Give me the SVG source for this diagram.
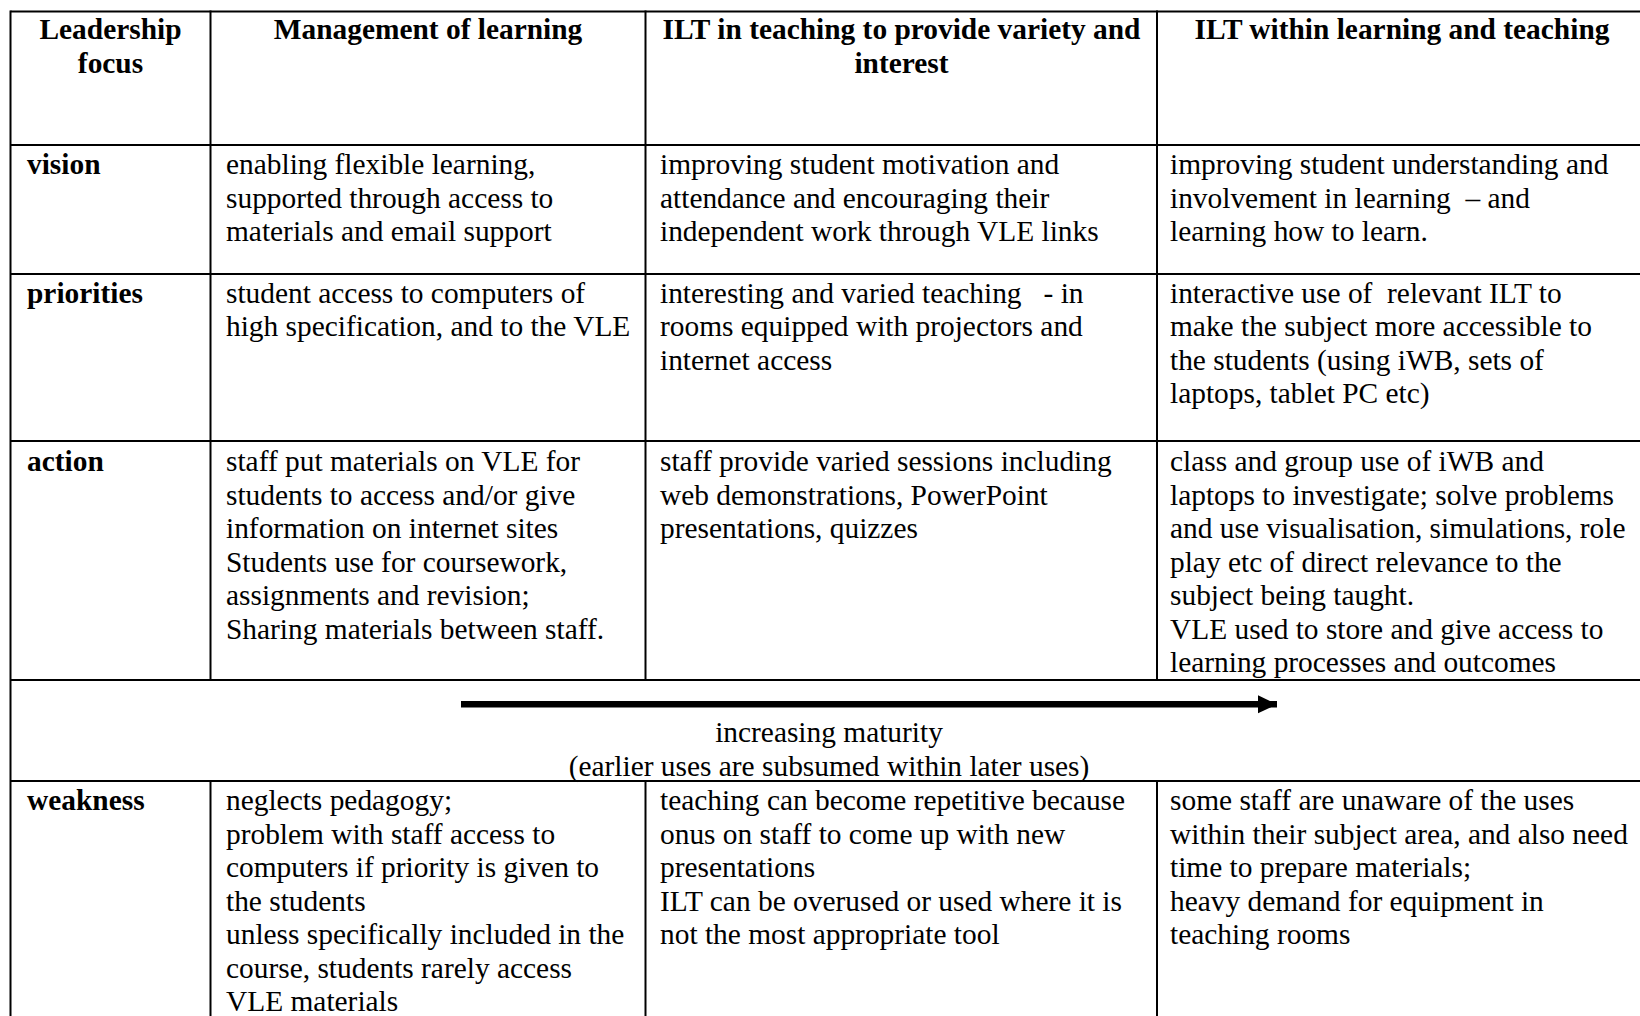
<svg xmlns="http://www.w3.org/2000/svg" width="1640" height="1016" viewBox="0 0 1640 1016">
<style>
.t{font-family:"Liberation Serif","Times New Roman",serif;font-size:29.4px;fill:#000}
.b{font-weight:bold}
.c{text-anchor:middle}
.grid{stroke:#000;stroke-width:2;fill:none}
</style>
<defs>
<marker id="ah" markerUnits="userSpaceOnUse" markerWidth="22" markerHeight="20" refX="19" refY="9.5" orient="auto">
<path d="M0,0.5 L19,9.5 L0,18.5 Z" fill="#000"/>
</marker>
</defs>
<rect width="1640" height="1016" fill="#fff"/>
<g id="grid" class="grid">
<line x1="10.5" y1="11.5" x2="1648" y2="11.5"/>
<line x1="10.5" y1="145" x2="1648" y2="145"/>
<line x1="10.5" y1="274" x2="1648" y2="274"/>
<line x1="10.5" y1="441" x2="1648" y2="441"/>
<line x1="10.5" y1="680" x2="1648" y2="680"/>
<line x1="10.5" y1="781" x2="1648" y2="781"/>
<line x1="10.5" y1="10.5" x2="10.5" y2="1020"/>
<line x1="210.5" y1="10.5" x2="210.5" y2="680"/>
<line x1="645.5" y1="10.5" x2="645.5" y2="680"/>
<line x1="1157" y1="10.5" x2="1157" y2="680"/>
<line x1="210.5" y1="781" x2="210.5" y2="1020"/>
<line x1="645.5" y1="781" x2="645.5" y2="1020"/>
<line x1="1157" y1="781" x2="1157" y2="1020"/>
</g>
<g id="h1"><text class="t b c" x="110.5" y="39"><tspan x="110.5">Leadership</tspan><tspan x="110.5" dy="33.5">focus</tspan></text></g>
<g id="h2"><text class="t b c" x="428" y="39">Management of learning</text></g>
<g id="h3"><text class="t b c" x="901.5" y="39"><tspan x="901.5">ILT in teaching to provide variety and</tspan><tspan x="901.5" dy="33.5">interest</tspan></text></g>
<g id="h4"><text class="t b c" x="1402" y="39">ILT within learning and teaching</text></g>

<g id="r-vision"><text class="t b" x="27" y="174">vision</text></g>
<g id="vision-1"><text class="t" y="174"><tspan x="226">enabling flexible learning,</tspan><tspan x="226" dy="33.5">supported through access to</tspan><tspan x="226" dy="33.5">materials and email support</tspan></text></g>
<g id="vision-2"><text class="t" y="174"><tspan x="660">improving student motivation and</tspan><tspan x="660" dy="33.5">attendance and encouraging their</tspan><tspan x="660" dy="33.5">independent work through VLE links</tspan></text></g>
<g id="vision-3"><text class="t" y="174" xml:space="preserve"><tspan x="1170">improving student understanding and</tspan><tspan x="1170" dy="33.5">involvement in learning  – and</tspan><tspan x="1170" dy="33.5">learning how to learn.</tspan></text></g>

<g id="r-priorities"><text class="t b" x="27" y="302.5">priorities</text></g>
<g id="priorities-1"><text class="t" y="302.5"><tspan x="226">student access to computers of</tspan><tspan x="226" dy="33.5">high specification, and to the VLE</tspan></text></g>
<g id="priorities-2"><text class="t" y="302.5" xml:space="preserve"><tspan x="660">interesting and varied teaching   - in</tspan><tspan x="660" dy="33.5">rooms equipped with projectors and</tspan><tspan x="660" dy="33.5">internet access</tspan></text></g>
<g id="priorities-3"><text class="t" y="302.5" xml:space="preserve"><tspan x="1170">interactive use of  relevant ILT to</tspan><tspan x="1170" dy="33.5">make the subject more accessible to</tspan><tspan x="1170" dy="33.5">the students (using iWB, sets of</tspan><tspan x="1170" dy="33.5">laptops, tablet PC etc)</tspan></text></g>

<g id="r-action"><text class="t b" x="27" y="471">action</text></g>
<g id="action-1"><text class="t" y="471"><tspan x="226">staff put materials on VLE for</tspan><tspan x="226" dy="33.5">students to access and/or give</tspan><tspan x="226" dy="33.5">information on internet sites</tspan><tspan x="226" dy="33.5">Students use for coursework,</tspan><tspan x="226" dy="33.5">assignments and revision;</tspan><tspan x="226" dy="33.5">Sharing materials between staff.</tspan></text></g>
<g id="action-2"><text class="t" y="471"><tspan x="660">staff provide varied sessions including</tspan><tspan x="660" dy="33.5">web demonstrations, PowerPoint</tspan><tspan x="660" dy="33.5">presentations, quizzes</tspan></text></g>
<g id="action-3"><text class="t" y="471"><tspan x="1170">class and group use of iWB and</tspan><tspan x="1170" dy="33.5">laptops to investigate; solve problems</tspan><tspan x="1170" dy="33.5">and use visualisation, simulations, role</tspan><tspan x="1170" dy="33.5">play etc of direct relevance to the</tspan><tspan x="1170" dy="33.5">subject being taught.</tspan><tspan x="1170" dy="33.5">VLE used to store and give access to</tspan><tspan x="1170" dy="33.5">learning processes and outcomes</tspan></text></g>

<g id="connectors">
<line x1="461" y1="704.3" x2="1277" y2="704.3" stroke="#000" stroke-width="6.5" marker-end="url(#ah)"/>
</g>
<g id="maturity"><text class="t c" y="742"><tspan x="829">increasing maturity</tspan><tspan x="829" dy="33.5">(earlier uses are subsumed within later uses)</tspan></text></g>

<g id="r-weakness"><text class="t b" x="27" y="810">weakness</text></g>
<g id="weakness-1"><text class="t" y="810"><tspan x="226">neglects pedagogy;</tspan><tspan x="226" dy="33.5">problem with staff access to</tspan><tspan x="226" dy="33.5">computers if priority is given to</tspan><tspan x="226" dy="33.5">the students</tspan><tspan x="226" dy="33.5">unless specifically included in the</tspan><tspan x="226" dy="33.5">course, students rarely access</tspan><tspan x="226" dy="33.5">VLE materials</tspan></text></g>
<g id="weakness-2"><text class="t" y="810"><tspan x="660">teaching can become repetitive because</tspan><tspan x="660" dy="33.5">onus on staff to come up with new</tspan><tspan x="660" dy="33.5">presentations</tspan><tspan x="660" dy="33.5">ILT can be overused or used where it is</tspan><tspan x="660" dy="33.5">not the most appropriate tool</tspan></text></g>
<g id="weakness-3"><text class="t" y="810"><tspan x="1170">some staff are unaware of the uses</tspan><tspan x="1170" dy="33.5">within their subject area, and also need</tspan><tspan x="1170" dy="33.5">time to prepare materials;</tspan><tspan x="1170" dy="33.5">heavy demand for equipment in</tspan><tspan x="1170" dy="33.5">teaching rooms</tspan></text></g>
</svg>
